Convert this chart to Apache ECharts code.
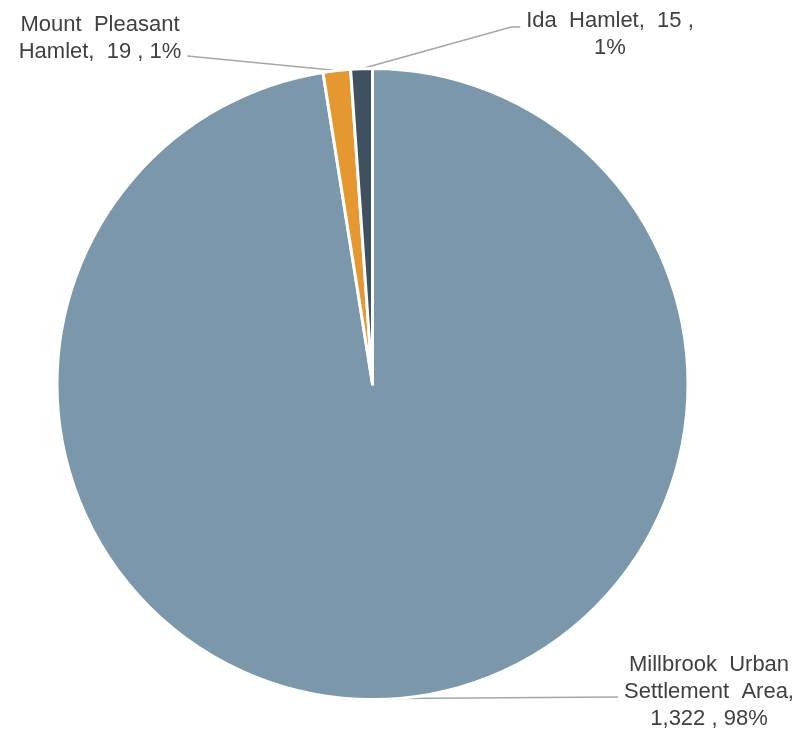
<!DOCTYPE html>
<html>
<head>
<meta charset="utf-8">
<script src="https://cdn.jsdelivr.net/npm/echarts@6/dist/echarts.min.js"></script>
<style>html,body{margin:0;padding:0;background:#fff}#c{width:800px;height:729px}</style>
</head>
<body>
<div id="c"></div>
<script>
var categories = ['Millbrook Urban Settlement Area', 'Mount Pleasant Hamlet', 'Ida Hamlet'];
var labelTexts = ['Millbrook  Urban\nSettlement  Area,\n', 'Mount  Pleasant\nHamlet,  ', 'Ida  Hamlet,  '];
var values = [1322, 19, 15];
var percentLabels = ['98%', '1%', '1%'];
var colors = ['#7A97AB', '#E4982F', '#3F5061'];

// label anchor (top-center of the label block) and leader-line end offsets
var labelAnchors = [
  { x: 709, y: 651, side: 'left', endDy: 46, elbow: 0 },
  { x: 100, y: 11, side: 'right', endDy: 45, elbow: 0 },
  { x: 610, y: 7, side: 'left', endDy: 20, elbow: 9 }
];

var chart = echarts.init(document.getElementById('c'), null, { renderer: 'canvas' });
chart.setOption({
  animation: false,
  series: [{
    type: 'pie',
    center: [372.5, 384],
    radius: 315.5,
    startAngle: 90,
    clockwise: true,
    itemStyle: { borderColor: '#fff', borderWidth: 3 },
    label: {
      show: true,
      position: 'outside',
      overflow: 'none',
      fontFamily: 'Liberation Sans, Arial, sans-serif',
      fontSize: 22,
      lineHeight: 27,
      color: '#404040',
      align: 'center',
      formatter: function (p) {
        var i = p.dataIndex;
        var v = values[i].toLocaleString('en-US');
        if (i === 2) return labelTexts[i] + v + ' ,\n' + percentLabels[i];
        return labelTexts[i] + v + ' , ' + percentLabels[i];
      }
    },
    labelLine: { show: true, length: 20, length2: 10, lineStyle: { color: '#A6A6A6', width: 1.5 } },
    labelLayout: function (params) {
      var a = labelAnchors[params.dataIndex];
      var w = params.labelRect.width;
      var start = params.labelLinePoints ? params.labelLinePoints[0] : null;
      var res = { x: a.x, y: a.y, align: 'center', verticalAlign: 'top' };
      if (start) {
        var endX = a.side === 'left' ? a.x - w / 2 - 6 : a.x + w / 2 + 6;
        var endY = a.y + a.endDy;
        var elbowX = a.side === 'left' ? endX - a.elbow : endX + a.elbow;
        res.labelLinePoints = [[start[0], start[1]], [elbowX, endY], [endX, endY]];
      }
      return res;
    },
    data: categories.map(function (c, i) {
      return { name: c, value: values[i], itemStyle: { color: colors[i] } };
    })
  }]
});
</script>
</body>
</html>
